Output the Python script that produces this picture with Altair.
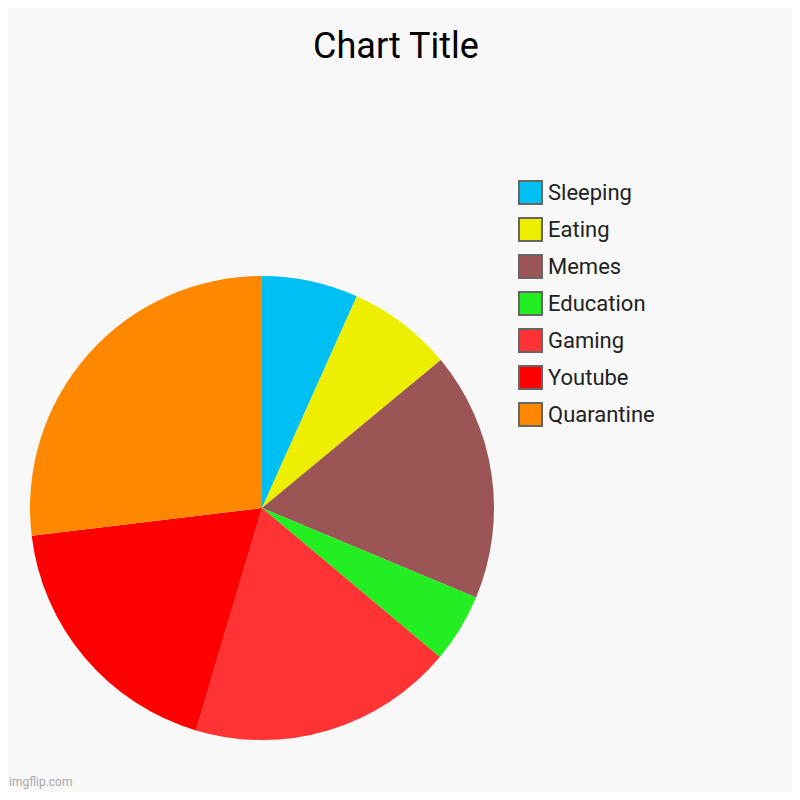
import altair as alt
import pandas as pd

categories = ["Sleeping", "Eating", "Memes", "Education", "Gaming", "Youtube", "Quarantine"]
values = [6.7, 7.3, 17.3, 4.8, 18.5, 18.5, 26.9]
colors = ["#00BFF3", "#EEEE00", "#9B5555", "#22EE22", "#FF3333", "#FF0000", "#FF8800"]

df = pd.DataFrame({"category": categories, "value": values, "order": list(range(len(categories)))})

W, H = 784, 784
CX, CY, R = 254, 500, 232

pie = alt.Chart(df).mark_arc(radius=R).encode(
    theta=alt.Theta("value:Q", stack=True),
    order=alt.Order("order:Q"),
    color=alt.Color(
        "category:N",
        scale=alt.Scale(domain=categories, range=colors),
        sort=categories,
        legend=alt.Legend(
            title=None,
            orient="none",
            legendX=510,
            legendY=172,
            symbolType="square",
            symbolSize=529,
            symbolStrokeColor="#666666",
            symbolStrokeWidth=2,
            symbolOpacity=1,
            labelFontSize=22,
            labelFont="Roboto",
            labelColor="#222222",
            labelOffset=5,
            rowPadding=6,
            padding=0,
        ),
    ),
    x=alt.value(CX),
    y=alt.value(CY),
)

title_df = pd.DataFrame({"t": ["Chart Title"]})
title = alt.Chart(title_df).mark_text(
    font="Roboto", fontSize=36, color="#000000", align="center", baseline="alphabetic"
).encode(text="t:N", x=alt.value(388), y=alt.value(50))

wm_df = pd.DataFrame({"t": ["imgflip.com"]})
wm = alt.Chart(wm_df).mark_text(
    font="Roboto", fontSize=12, color="#AAAAAA", align="left", baseline="alphabetic"
).encode(text="t:N", x=alt.value(1), y=alt.value(778))

chart = alt.layer(pie, title, wm).properties(
    width=W, height=H, autosize=alt.AutoSizeParams(type="none"), padding=0
).configure(background="#F8F8F8").configure_view(stroke=None)

chart.save("out.html", embed_options={"renderer": "svg", "actions": False})
